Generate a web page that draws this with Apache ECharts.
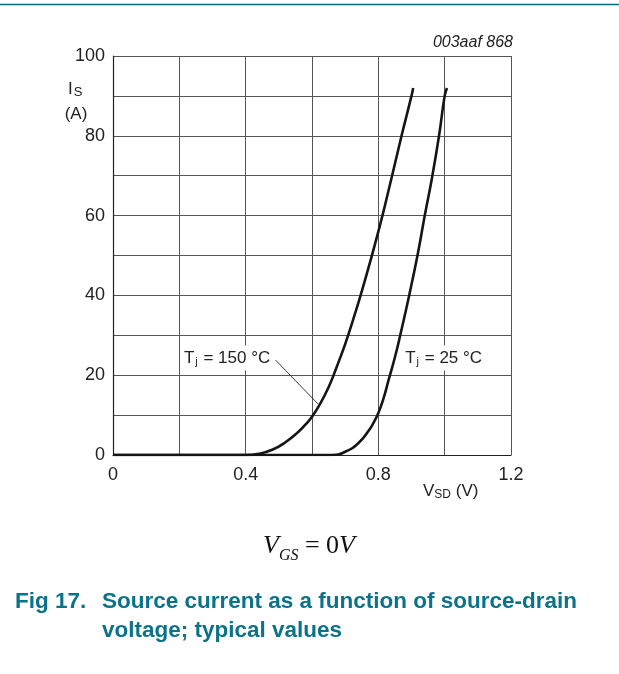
<!DOCTYPE html>
<html><head><meta charset="utf-8">
<script src="https://cdn.jsdelivr.net/npm/echarts@6/dist/echarts.min.js"></script>
<style>html,body{margin:0;padding:0;background:#fff}#c{width:619px;height:674px}</style>
</head><body><div id="c"></div>
<script>
// Tj = 150 °C curve
const vsd150 = [0, 0.40, 0.44, 0.48, 0.52, 0.56, 0.58, 0.60, 0.62, 0.65, 0.675, 0.70, 0.725, 0.75, 0.80, 0.84, 0.87, 0.90, 0.905];
const is150  = [0, 0,    0.3,  1.3,  3.2,  5.9,  7.6,  9.6,  12.2, 17.0, 22.2,  27.8, 34.2,  41,   56,   69.5, 80,   90,   92];
// Tj = 25 °C curve
const vsd25 = [0, 0.66, 0.70, 0.74, 0.77, 0.785, 0.80, 0.815, 0.83, 0.85, 0.866, 0.893, 0.918, 0.94, 0.963, 0.983, 1.0, 1.007];
const is25  = [0, 0,    0.8,  3.0,  6.0,  8.0,   10.5, 14.0,  18.5, 24.5, 30,    40,    50,    60,   70,    80,    90,  92];
// tick labels
const xTickLabels = [0, 0.4, 0.8, 1.2];
const yTickLabels = [0, 20, 40, 60, 80, 100];
// annotation (leader line for 150 °C label) in data units
const leaderV = [0.490, 0.618];
const leaderI = [23.8, 12.8];
// label anchor positions in data units
const labelV = [0.344, 0.997];
const labelI = [24.3, 24.3];
const labelText = ['150', '25'];

const pairs = (xs, ys) => xs.map((x, i) => [x, ys[i]]);
const near = (v, list) => list.some(t => Math.abs(t - v) < 1e-6);
const fmt = v => { const r = Math.round(v * 10) / 10; return r === 0 ? '0' : String(r); };

const SANS = 'Liberation Sans, Arial, sans-serif';
const axisFont = { fontFamily: SANS, fontSize: 18, color: '#222' };
const chart = echarts.init(document.getElementById('c'), null, { renderer: 'canvas' });
chart.setOption({
  animation: false,
  backgroundColor: '#fff',
  grid: { left: 113, right: 108, top: 56, bottom: 219, containLabel: false },
  xAxis: {
    type: 'value', min: 0, max: 1.2, interval: 0.2,
    axisLine: { show: true, lineStyle: { color: '#222', width: 1.2 } },
    axisTick: { show: false },
    splitLine: { show: true, lineStyle: { color: '#555', width: 1 } },
    axisLabel: Object.assign({ margin: 11, formatter: v => near(v, xTickLabels) ? fmt(v) : '' }, axisFont)
  },
  yAxis: {
    type: 'value', min: 0, max: 100, interval: 10,
    axisLine: { show: true, lineStyle: { color: '#222', width: 1.2 } },
    axisTick: { show: false },
    splitLine: { show: true, lineStyle: { color: '#555', width: 1 } },
    axisLabel: Object.assign({ margin: 8, formatter: v => near(v, yTickLabels) ? String(v) : '' }, axisFont)
  },
  series: [
    { type: 'line', data: pairs(vsd150, is150), smooth: 0.5, showSymbol: false, symbol: 'none',
      lineStyle: { color: '#151515', width: 2.6 }, silent: true, z: 3 },
    { type: 'line', data: pairs(vsd25, is25), smooth: 0.5, showSymbol: false, symbol: 'none',
      lineStyle: { color: '#151515', width: 2.6 }, silent: true, z: 3 },
    { type: 'line', data: pairs(leaderV, leaderI), showSymbol: false, symbol: 'none',
      lineStyle: { color: '#222', width: 0.9 }, silent: true, z: 4 },
    { type: 'scatter', data: pairs(labelV, labelI), symbolSize: 0, silent: true, z: 5,
      itemStyle: { opacity: 1, color: '#222' },
      label: {
        show: true, position: 'inside', color: '#222', textBorderWidth: 0,
        formatter: p => '{t|T}{s|j}{t| = ' + labelText[p.dataIndex] + ' °C}',
        backgroundColor: '#fff', padding: [3, 2, 3, 2],
        rich: {
          t: { fontFamily: SANS, fontSize: 17, color: '#222', lineHeight: 19, textBorderWidth: 0 },
          s: { fontFamily: SANS, fontSize: 11, color: '#222', lineHeight: 11, verticalAlign: 'bottom', padding: [0, 1, 0, 1], textBorderWidth: 0 }
        }
      }
    }
  ],
  graphic: [
    { type: 'line', shape: { x1: 0, y1: 4.5, x2: 619, y2: 4.5 }, style: { stroke: '#00707f', lineWidth: 1.5 } },
    { type: 'text', x: 513, y: 43, style: { text: '003aaf 868', font: 'italic 16px ' + SANS, fill: '#222', textAlign: 'right', textVerticalAlign: 'middle' } },
    { type: 'text', x: 68, y: 89, style: {
        text: '{a|I}{b|S}', textVerticalAlign: 'middle',
        rich: { a: { fontFamily: SANS, fontSize: 17, fill: '#222', lineHeight: 19 },
                b: { fontFamily: SANS, fontSize: 13, fill: '#222', lineHeight: 13, verticalAlign: 'bottom', padding: [0, 0, 0, 1] } } } },
    { type: 'text', x: 76, y: 114, style: { text: '(A)', font: '17px ' + SANS, fill: '#222', textAlign: 'center', textVerticalAlign: 'middle' } },
    { type: 'text', x: 423, y: 491, style: {
        text: '{a|V}{b|SD}{a| (V)}', textVerticalAlign: 'middle',
        rich: { a: { fontFamily: SANS, fontSize: 17, fill: '#222', lineHeight: 19 },
                b: { fontFamily: SANS, fontSize: 12, fill: '#222', lineHeight: 12, verticalAlign: 'bottom' } } } },
    { type: 'text', x: 263, y: 546, style: {
        text: '{v|V}{g|GS}{e| = 0}{v|V}', textVerticalAlign: 'middle',
        rich: { v: { fontFamily: 'Liberation Serif, Times New Roman, serif', fontStyle: 'italic', fontSize: 26, fill: '#111', lineHeight: 28 },
                g: { fontFamily: 'Liberation Serif, Times New Roman, serif', fontStyle: 'italic', fontSize: 16, fill: '#111', lineHeight: 16, verticalAlign: 'bottom', padding: [0, 0, -4, 0] },
                e: { fontFamily: 'Liberation Serif, Times New Roman, serif', fontSize: 26, fill: '#111', lineHeight: 28 } } } },
    { type: 'text', x: 15, y: 602, style: { text: 'Fig 17.', font: 'bold 22.5px ' + SANS, fill: '#0b7389', textVerticalAlign: 'middle' } },
    { type: 'text', x: 102, y: 602, style: { text: 'Source current as a function of source-drain', font: 'bold 22.5px ' + SANS, fill: '#0b7389', textVerticalAlign: 'middle' } },
    { type: 'text', x: 102, y: 631, style: { text: 'voltage; typical values', font: 'bold 22.5px ' + SANS, fill: '#0b7389', textVerticalAlign: 'middle' } }
  ]
});
</script>
</body></html>
